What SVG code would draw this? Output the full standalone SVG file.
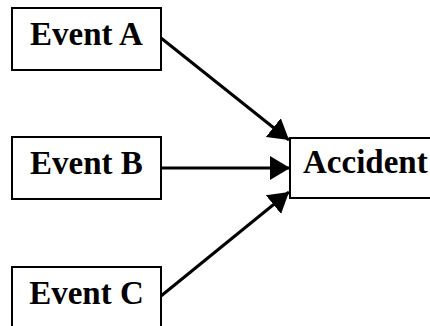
<svg xmlns="http://www.w3.org/2000/svg" width="430" height="326" viewBox="0 0 430 326">
  <style>
    .box { fill: #fff; stroke: #000; stroke-width: 2; }
    .label { font-family: "Liberation Serif", "Times New Roman", serif; font-weight: bold; font-size: 33px; fill: #000; }
    .edge { stroke: #000; stroke-width: 3; fill: none; marker-end: url(#arrow); }
  </style>
  <defs>
    <marker id="arrow" markerUnits="userSpaceOnUse" markerWidth="20" markerHeight="24" refX="20" refY="12" orient="auto">
      <path d="M0,0 L20,12 L0,24 z" fill="#000"/>
    </marker>
  </defs>
  <rect width="430" height="326" fill="#fff"/>

  <g id="connectors">
    <line class="edge" x1="161" y1="38" x2="289" y2="140"/>
    <line class="edge" x1="161" y1="168" x2="290" y2="168"/>
    <line class="edge" x1="161" y1="296" x2="289" y2="192"/>
  </g>

  <g id="event-a">
    <rect class="box" x="12" y="8" width="149" height="62"/>
    <text class="label" x="86.5" y="45" text-anchor="middle">Event A</text>
  </g>
  <g id="event-b">
    <rect class="box" x="12" y="137" width="149" height="62"/>
    <text class="label" x="86.5" y="174" text-anchor="middle">Event B</text>
  </g>
  <g id="event-c">
    <rect class="box" x="12" y="267" width="149" height="70"/>
    <text class="label" x="86.5" y="304" text-anchor="middle">Event C</text>
  </g>
  <g id="accident">
    <rect class="box" x="290" y="138" width="150" height="60"/>
    <text class="label" x="303" y="173">Accident</text>
  </g>
</svg>
